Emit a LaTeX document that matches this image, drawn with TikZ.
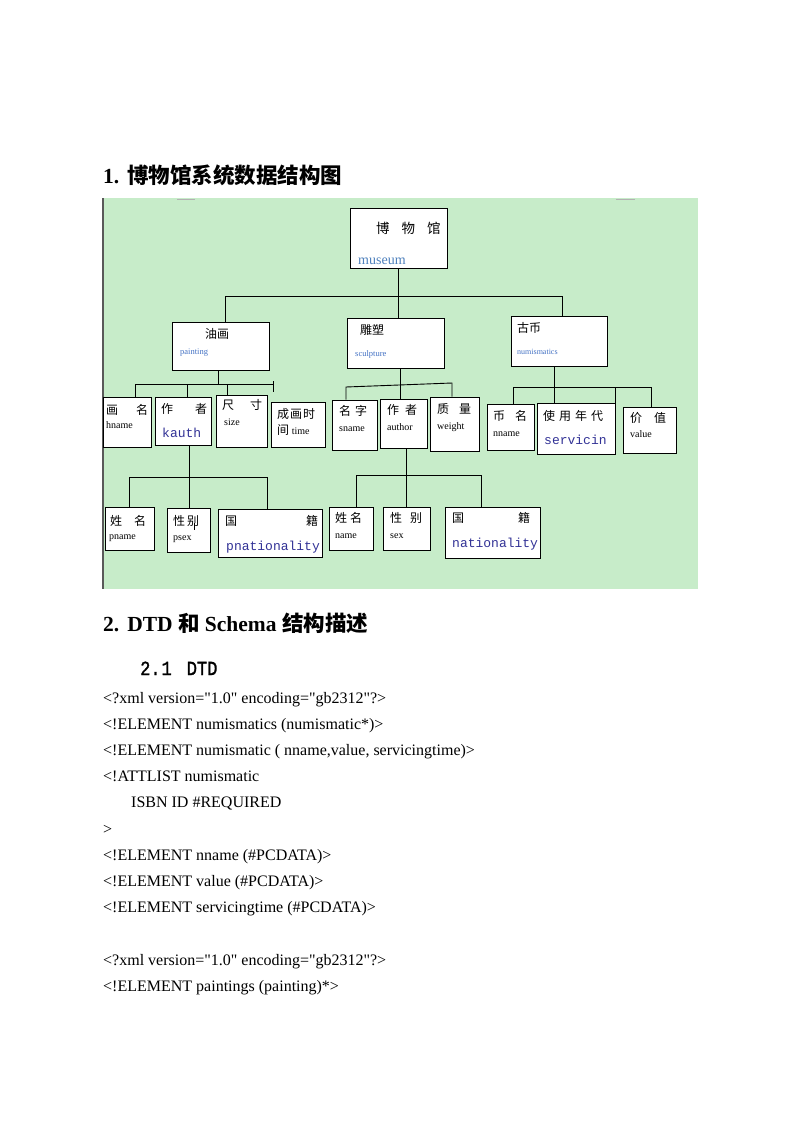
\documentclass[tikz,border=0pt]{standalone}
\usepackage{fontspec}
\setmainfont{Liberation Serif}
\newfontfamily\cjk{Noto Sans CJK SC}
\newfontfamily\codefont{Liberation Mono}
\newfontfamily\dtdfont[FakeStretch=0.85,FakeBold=1.5]{Liberation Mono}
\newcommand{\dq}{\textquotedbl}
\definecolor{panelgreen}{RGB}{199,236,201}
\definecolor{museumblue}{RGB}{79,129,189}
\definecolor{catblue}{RGB}{68,114,196}
\definecolor{tagblue}{RGB}{50,50,150}
\tikzset{
 box/.style={draw,fill=white,line width=0.9pt,inner sep=0pt},
 link/.style={line width=0.9pt},
 zh/.style={anchor=base west,inner sep=0pt,font=\cjk\fontsize{12}{12}\selectfont},
 en/.style={anchor=base west,inner sep=0pt,font=\fontsize{10}{10}\selectfont},
 cat/.style={anchor=base west,inner sep=0pt,text=catblue,font=\fontsize{8.5}{8.5}\selectfont},
 tag/.style={anchor=base west,inner sep=0pt,text=tagblue,font=\codefont\fontsize{13}{13}\selectfont},
 code/.style={anchor=base west,inner sep=0pt,font=\fontsize{16}{16}\selectfont},
 head/.style={anchor=base west,inner sep=0pt,font=\bfseries\fontsize{21.5}{21.5}\selectfont},
}
\begin{document}
\begin{tikzpicture}[x=1pt,y=-1pt]
 \useasboundingbox[fill=white] (0,0) rectangle (800,1132);
 \node[head] (title1) at (103,183) {1.\hspace{8pt}{\cjk\bfseries 博物馆系统数据结构图}};
 \fill[panelgreen] (103,198) rectangle (698,589);
 \draw[gray!60,line width=1pt] (177,199) -- (195,199);
 \draw[gray!60,line width=1pt] (616,199) -- (635,199);
 \draw[black!65,line width=1.6pt] (103,198) -- (103,589);
 % top levels
 \node[box,minimum width=97pt,minimum height=60pt] (museum) at (398.5,238) {};
 \node[box,minimum width=97pt,minimum height=48pt] (painting) at (220.5,346) {};
 \node[box,minimum width=97pt,minimum height=50pt] (sculpture) at (395.5,343) {};
 \node[box,minimum width=96pt,minimum height=50pt] (numismatics) at (559,341) {};
 \node[zh,font=\cjk\fontsize{13.5}{13.5}\selectfont] (museum-zh) at (376,233) {博\hspace{12pt}物\hspace{12pt}馆};
 \node[en,text=museumblue,font=\fontsize{14}{14}\selectfont] (museum-en) at (358,264) {museum};
 \node[zh] (painting-zh) at (205,338) {油画};
 \node[cat] (painting-en) at (180,354) {painting};
 \node[zh] (sculpture-zh) at (360,334) {雕塑};
 \node[cat] (sculpture-en) at (355,356) {sculpture};
 \node[zh] (numismatics-zh) at (517,332) {古币};
 \node[cat,font=\fontsize{8}{8}\selectfont] (numismatics-en) at (517,354) {numismatics};
 % second level
 \node[box,minimum width=48pt,minimum height=50pt] (hname) at (127,422) {};
 \node[box,minimum width=56pt,minimum height=48pt] (kauth) at (183,421) {};
 \node[box,minimum width=51pt,minimum height=52pt] (size) at (241.5,421) {};
 \node[box,minimum width=54pt,minimum height=45pt] (time) at (298,424.5) {};
 \node[box,minimum width=45pt,minimum height=50pt] (sname) at (354.5,425) {};
 \node[box,minimum width=47pt,minimum height=49pt] (author) at (403.5,423.5) {};
 \node[box,minimum width=49pt,minimum height=54pt] (weight) at (454.5,424) {};
 \node[box,minimum width=47pt,minimum height=46pt] (nname) at (510.5,427) {};
 \node[box,minimum width=78pt,minimum height=51pt] (servicin) at (576,428.5) {};
 \node[box,minimum width=53pt,minimum height=46pt] (value) at (649.5,430) {};
 \node[zh] (hname-zh) at (106,414) {画\hspace{18pt}名};
 \node[en] (hname-en) at (106,428) {hname};
 \node[zh] (kauth-zh) at (161,413) {作\hspace{22pt}者};
 \node[tag] (kauth-en) at (162,437) {kauth};
 \node[zh] (size-zh) at (222,409) {尺\hspace{16pt}寸};
 \node[en] (size-en) at (224,425) {size};
 \node[zh] (time-zh) at (277,418) {成\hspace{1pt}画\hspace{1pt}时};
 \node[zh] (time-en) at (277,434) {间 {\rmfamily\fontsize{10}{10}\selectfont time}};
 \node[zh] (sname-zh) at (339,415) {名\hspace{4pt}字};
 \node[en] (sname-en) at (339,431) {sname};
 \node[zh] (author-zh) at (387,414) {作\hspace{6pt}者};
 \node[en] (author-en) at (387,430) {author};
 \node[zh] (weight-zh) at (437,413) {质\hspace{10pt}量};
 \node[en] (weight-en) at (437,429) {weight};
 \node[zh] (nname-zh) at (493,420) {币\hspace{10pt}名};
 \node[en] (nname-en) at (493,436) {nname};
 \node[zh] (servicin-zh) at (543,420) {使\hspace{4pt}用\hspace{4pt}年\hspace{4pt}代};
 \node[tag] (servicin-en) at (544,444) {servicin};
 \node[zh] (value-zh) at (630,422) {价\hspace{12pt}值};
 \node[en] (value-en) at (630,437) {value};
 % third level
 \node[box,minimum width=49pt,minimum height=43pt] (pname) at (129.5,528.5) {};
 \node[box,minimum width=43pt,minimum height=44pt] (psex) at (188.5,530) {};
 \node[box,minimum width=104pt,minimum height=48pt] (pnat) at (270,533) {};
 \node[box,minimum width=44pt,minimum height=43pt] (name) at (351,528.5) {};
 \node[box,minimum width=47pt,minimum height=43pt] (sex) at (406.5,528.5) {};
 \node[box,minimum width=95pt,minimum height=51pt] (nat) at (492.5,532.5) {};
 \node[zh] (pname-zh) at (110,525) {姓\hspace{12pt}名};
 \node[en] (pname-en) at (109,539) {pname};
 \node[zh] (psex-zh) at (173,525) {性\hspace{2pt}别};
 \node[en] (psex-en) at (173,540) {psex};
 \node[zh] (pnat-zh) at (225,525) {\makebox[93pt][s]{国\hfill 籍}};
 \node[tag] (pnat-en) at (226,550) {pnationality};
 \node[zh] (name-zh) at (335,522) {姓\hspace{3pt}名};
 \node[en] (name-en) at (335,538) {name};
 \node[zh] (sex-zh) at (390,522) {性\hspace{8pt}别};
 \node[en] (sex-en) at (390,538) {sex};
 \node[zh] (nat-zh) at (452,522) {\makebox[78pt][s]{国\hfill 籍}};
 \node[tag] (nat-en) at (452,547) {nationality};
 % connectors
 \coordinate (mL) at (225,296);
 \coordinate (mR) at (562,296);
 \draw[link] (museum.south) -- (museum.south |- sculpture.north);
 \draw[link] (mL |- painting.north) -- (mL) -- (mR) -- (mR |- numismatics.north);
 \coordinate (pL) at (135,384);
 \coordinate (pR) at (273,384);
 \coordinate (pM) at (218,384);
 \coordinate (pK) at (187,384);
 \coordinate (pS) at (227,384);
 \draw[link] (pM |- painting.south) -- (pM);
 \draw[link] (pL |- hname.north) -- (pL) -- (pR);
 \draw[link] (pK) -- (pK |- kauth.north);
 \draw[link] (pS) -- (pS |- size.north);
 \draw[link] ([yshift=3pt]pR) -- ([yshift=-8pt]pR);
 \coordinate (sL) at (346,387);
 \coordinate (sR) at (452,383);
 \coordinate (sM) at (400,385);
 \draw[link] (sL |- sname.north) -- (sL) -- (sR) -- (sR |- weight.north);
 \draw[link] (sM |- sculpture.south) -- (sM |- author.north);
 \coordinate (nL) at (513,387);
 \coordinate (nR) at (651,387);
 \coordinate (nM) at (554,387);
 \coordinate (nS) at (615,387);
 \draw[link] (nL |- nname.north) -- (nL) -- (nR) -- (nR |- value.north);
 \draw[link] (nM |- numismatics.south) -- (nM |- servicin.north);
 \draw[link] (nS) -- (nS |- servicin.north);
 \coordinate (kL) at (129,477);
 \coordinate (kR) at (267,477);
 \coordinate (kM) at (189,477);
 \draw[link] (kL |- pname.north) -- (kL) -- (kR) -- (kR |- pnat.north);
 \draw[link] (kM |- kauth.south) -- (kM |- psex.north);
 \draw[link] (194,523) -- (194,530);
 \coordinate (aL) at (356,475);
 \coordinate (aR) at (481,475);
 \coordinate (aM) at (406,475);
 \draw[link] (aL |- name.north) -- (aL) -- (aR) -- (aR |- nat.north);
 \draw[link] (aM |- author.south) -- (aM |- sex.north);
 % text below
 \node[head] (title2) at (103,631) {2.\hspace{8pt}DTD {\cjk\bfseries 和} Schema {\cjk\bfseries 结构描述}};
 \node[anchor=base west,inner sep=0pt,font=\dtdfont\fontsize{20}{20}\selectfont] (title21) at (140,675) {2.\hspace{1pt}1\hspace{15pt}DTD};
 \node[code] (line1) at (103,703) {<?xml version=\dq1.0\dq{} encoding=\dq gb2312\dq?>};
 \node[code] (line2) at (103,729.2) {<!ELEMENT numismatics (numismatic*)>};
 \node[code] (line3) at (103,755.4) {<!ELEMENT numismatic ( nname,value, servicingtime)>};
 \node[code] (line4) at (103,781.6) {<!ATTLIST numismatic};
 \node[code] (line5) at (131,807.8) {ISBN ID \#REQUIRED};
 \node[code] (line6) at (103,834) {>};
 \node[code] (line7) at (103,860.2) {<!ELEMENT nname (\#PCDATA)>};
 \node[code] (line8) at (103,886.4) {<!ELEMENT value (\#PCDATA)>};
 \node[code] (line9) at (103,912.6) {<!ELEMENT servicingtime (\#PCDATA)>};
 \node[code] (line10) at (103,965) {<?xml version=\dq1.0\dq{} encoding=\dq gb2312\dq?>};
 \node[code] (line11) at (103,991.2) {<!ELEMENT paintings (painting)*>};
\end{tikzpicture}
\end{document}
